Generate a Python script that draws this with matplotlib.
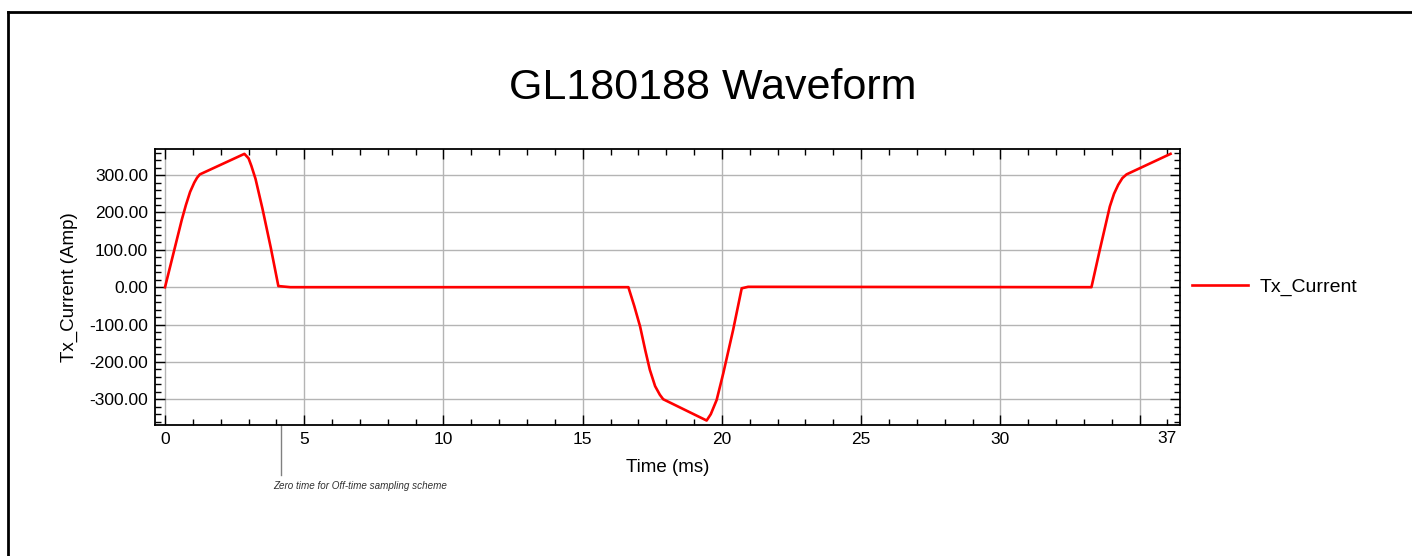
import numpy as np
import matplotlib
matplotlib.use('Agg')
import matplotlib.pyplot as plt
from matplotlib.ticker import MultipleLocator, FixedLocator
from matplotlib.lines import Line2D

plt.rcParams['font.family'] = ['Liberation Sans', 'DejaVu Sans']

# waveform points (time in ms, current in Amp)
t_ms = [0.0, 0.2, 0.4, 0.6, 0.75, 0.9, 1.05, 1.15, 1.25, 2.85, 3.0, 3.1, 3.25, 3.5, 3.8, 4.07, 4.5,
        16.64, 16.85, 17.06, 17.25, 17.41, 17.6, 17.77, 17.89, 19.45, 19.6, 19.81, 20.05, 20.4, 20.71, 20.94,
        33.27, 33.57, 33.93, 34.08, 34.23, 34.38, 34.53, 36.11]
current = [0.0, 60.0, 120.0, 180.0, 220.0, 255.0, 280.0, 293.0, 302.0, 357.0, 345.0, 325.0, 290.0, 210.0, 105.0, 3.0, 0.0,
           0.0, -50.0, -105.0, -170.0, -221.0, -265.0, -288.0, -300.0, -357.0, -340.0, -302.0, -230.0, -115.0, -3.0, 1.0,
           0.0, 100.0, 216.0, 250.0, 274.0, 292.0, 302.0, 357.0]

x_ticks = [0, 5, 10, 15, 20, 25, 30, 35]
x_labels = ['0', '5', '10', '15', '20', '25', '30', '']
y_ticks = [-300, -200, -100, 0, 100, 200, 300]
zero_time = 4.17

fig = plt.figure(figsize=(14.12, 5.56), dpi=100)
ax = fig.add_axes([155/1412, 1-425/556, (1180-155)/1412, (425-149)/556])

ax.plot(t_ms, current, color='#ff0000', lw=1.9, label='Tx_Current', zorder=3)

ax.set_xlim(-0.36, 36.45)
ax.set_ylim(-369, 370)
ax.xaxis.set_major_locator(FixedLocator(x_ticks))
ax.set_xticklabels(x_labels)
ax.xaxis.set_minor_locator(MultipleLocator(1))
ax.set_yticks(y_ticks)
ax.set_yticklabels(['%.2f' % v for v in y_ticks])
ax.yaxis.set_minor_locator(MultipleLocator(20))
ax.tick_params(which='both', direction='in', top=True, right=True, labelsize=12.5, width=1)
ax.tick_params(which='major', length=7, pad=5)
ax.tick_params(which='minor', length=4)
for s in ax.spines.values():
    s.set_linewidth(1.3)
ax.grid(True, which='major', color='#b4b4b4', lw=1)
ax.set_axisbelow(True)

# end label of the time axis
ax.text(36.0, -0.02, '37', transform=ax.get_xaxis_transform(), ha='center', va='top', fontsize=12.5)

ax.set_xlabel('Time (ms)', fontsize=13.5, labelpad=9)
ax.set_ylabel('Tx_Current (Amp)', fontsize=13.5, labelpad=8)
fig.text(713/1412, 1-88/556, 'GL180188 Waveform', ha='center', va='center', fontsize=31)

# zero time marker
ax.plot([zero_time, zero_time], [0, -0.18], transform=ax.get_xaxis_transform(), color='#808080',
        lw=1, clip_on=False, zorder=2)
ax.annotate('Zero time for Off-time sampling scheme', xy=(zero_time, 0), xycoords=ax.get_xaxis_transform(),
            xytext=(273/1412, 1-486/556), textcoords='figure fraction', fontsize=7.1, style='italic',
            va='center', ha='left', color='#303030')

leg = ax.legend(loc='center left', bbox_to_anchor=(1.0, 0.5), frameon=False, fontsize=14,
                handlelength=2.9, handletextpad=0.6, borderaxespad=0.3, borderpad=0.3)

# outer frame (only top and left are visible)
fig.add_artist(Line2D([8/1412, 1.0], [1-12/556, 1-12/556], color='black', lw=2))
fig.add_artist(Line2D([8/1412, 8/1412], [0.0, 1-12/556], color='black', lw=2))

fig.savefig('out.png', dpi=100)
